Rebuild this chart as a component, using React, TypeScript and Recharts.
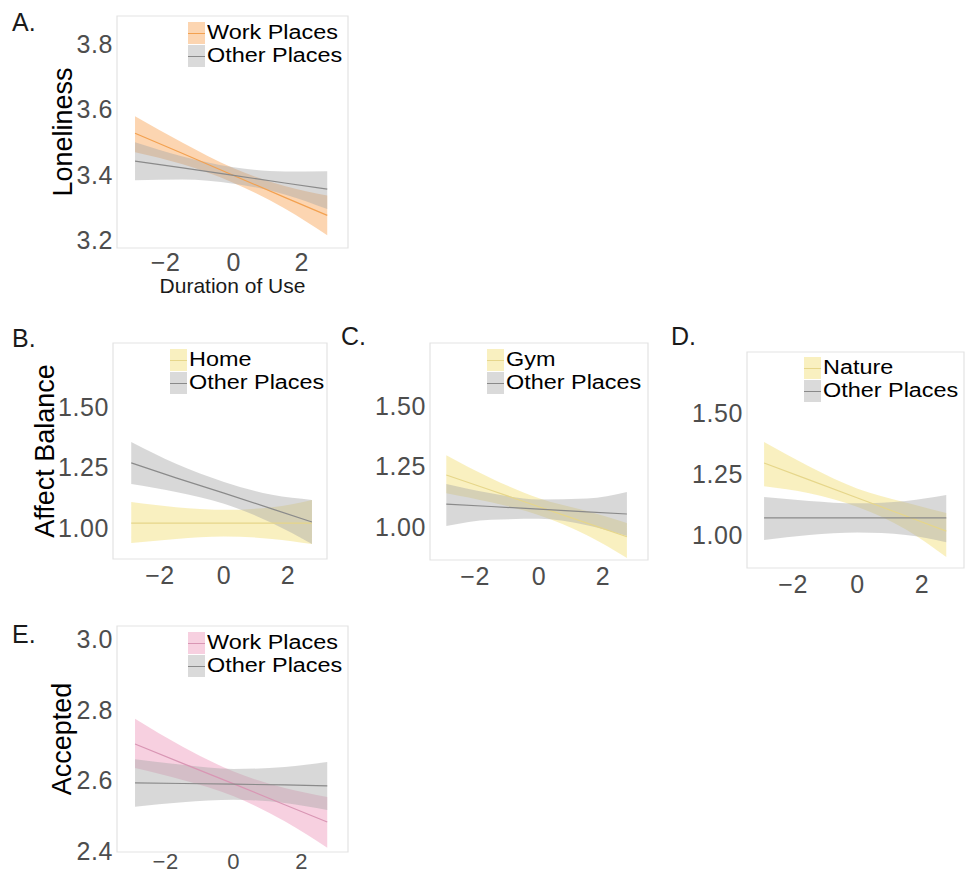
import React from 'react';
import { ComposedChart, Area, Line, XAxis, YAxis, Legend, ReferenceArea, Label } from 'recharts';

const FONT = '"Liberation Sans", Arial, Helvetica, sans-serif';

const durations = [-2.9, -1.5, 0, 1.5, 2.75];
const xTicks = [-2, 0, 2];

// A. Loneliness – work places vs other places
const lonelyWorkFit = [3.527, 3.465, 3.398, 3.331, 3.276];
const lonelyWorkLow = [3.469, 3.432, 3.375, 3.297, 3.215];
const lonelyWorkHigh = [3.579, 3.498, 3.42, 3.366, 3.337];
const lonelyOtherFit = [3.442, 3.421, 3.398, 3.375, 3.356];
const lonelyOtherLow = [3.383, 3.386, 3.373, 3.34, 3.295];
const lonelyOtherHigh = [3.5, 3.456, 3.423, 3.41, 3.411];

// B. Affect balance – home
const homeFit = [1.02, 1.02, 1.02, 1.02, 1.02];
const homeLow = [0.938, 0.955, 0.965, 0.955, 0.934];
const homeHigh = [1.107, 1.086, 1.075, 1.086, 1.116];
const homeOtherFit = [1.269, 1.207, 1.144, 1.079, 1.025];
const homeOtherLow = [1.182, 1.149, 1.1, 1.021, 0.934];
const homeOtherHigh = [1.355, 1.265, 1.19, 1.137, 1.116];

// C. Affect balance – gym
const gymFit = [1.215, 1.152, 1.084, 1.016, 0.96];
const gymLow = [1.14, 1.102, 1.049, 0.966, 0.872];
const gymHigh = [1.297, 1.202, 1.119, 1.066, 1.017];
const gymOtherFit = [1.095, 1.085, 1.074, 1.063, 1.054];
const gymOtherLow = [1.004, 1.03, 1.034, 1.008, 0.963];
const gymOtherHigh = [1.178, 1.14, 1.114, 1.118, 1.145];

// D. Affect balance – nature
const natureFit = [1.295, 1.226, 1.152, 1.078, 1.016];
const natureLow = [1.2, 1.171, 1.115, 1.023, 0.91];
const natureHigh = [1.381, 1.281, 1.19, 1.133, 1.09];
const natureOtherFit = [1.07, 1.07, 1.07, 1.07, 1.07];
const natureOtherLow = [0.98, 1.0, 1.01, 1.0, 0.97];
const natureOtherHigh = [1.156, 1.14, 1.13, 1.14, 1.164];

// E. Accepted – work places
const acceptWorkFit = [2.703, 2.648, 2.59, 2.531, 2.482];
const acceptWorkLow = [2.635, 2.601, 2.555, 2.484, 2.409];
const acceptWorkHigh = [2.774, 2.695, 2.625, 2.578, 2.553];
const acceptOtherFit = [2.593, 2.591, 2.589, 2.587, 2.584];
const acceptOtherLow = [2.525, 2.538, 2.545, 2.536, 2.516];
const acceptOtherHigh = [2.66, 2.644, 2.632, 2.638, 2.652];

const ORANGE = { band: '#f99b45', line: '#f3a150' };
const YELLOW = { band: '#f0dc6a', line: '#e6d68a' };
const PINK = { band: '#ec8fb5', line: '#d996b4' };
const GREY = { band: '#a8a8a8', line: '#8a8a8a' };
const BAND_OPACITY = 0.42;

const fmtX = (v: number) => (v < 0 ? `\u2212${Math.abs(v)}` : `${v}`);

function buildRows(fit: number[], low: number[], high: number[], oFit: number[], oLow: number[], oHigh: number[]) {
  return durations.map((x, i) => ({
    x,
    band: [low[i], high[i]],
    fit: fit[i],
    otherBand: [oLow[i], oHigh[i]],
    other: oFit[i],
  }));
}

interface PanelProps {
  letter: string;
  left: number;
  top: number;
  width: number;
  height: number;
  box: [number, number, number, number];
  xDomain: [number, number];
  yDomain: [number, number];
  yTicks: number[];
  digits: number;
  yTitle?: string;
  yTitleX?: number;
  xTitle?: string;
  place: string;
  color: { band: string; line: string };
  rows: ReturnType<typeof buildRows>;
  legendPos: [number, number];
  letterPos: [number, number];
  xTickMargin: number;
  xTickSize?: number;
}

// the source figure is a little stretched sideways, so the legend text is widened to match
function LegendBox({ place, color }: { place: string; color: { band: string; line: string } }) {
  const items = [
    { name: place, c: color },
    { name: 'Other Places', c: GREY },
  ];
  return (
    <div style={{ fontFamily: FONT, fontSize: 20, color: '#000' }}>
      {items.map((it) => (
        <div key={it.name} style={{ display: 'flex', alignItems: 'center', height: 23 }}>
          <div style={{ position: 'relative', width: 17, height: 22 }}>
            <div style={{ position: 'absolute', inset: 0, background: it.c.band, opacity: BAND_OPACITY }} />
            <div style={{ position: 'absolute', left: 0, right: 0, top: 11, height: 1, background: it.c.line }} />
          </div>
          <span
            style={{
              display: 'inline-block',
              marginLeft: 2,
              lineHeight: '23px',
              whiteSpace: 'nowrap',
              transform: 'scaleX(1.17)',
              transformOrigin: 'left center',
            }}
          >
            {it.name}
          </span>
        </div>
      ))}
    </div>
  );
}

function Panel(p: PanelProps) {
  const [x0, y0, x1, y1] = p.box;
  const mTop = y0 - p.top;
  const yWidth = x0 - p.left;
  const mRight = p.left + p.width - x1;
  const xHeight = p.top + p.height - y1;
  const boxMidY = mTop + (y1 - y0) / 2;
  const tick = { fill: '#4d4d4d', fontSize: 25, fontFamily: FONT, letterSpacing: 0.6 };
  const xTick = { ...tick, fontSize: p.xTickSize ?? 25 };

  return (
    <>
      <div
        style={{
          position: 'absolute',
          left: p.letterPos[0],
          top: p.letterPos[1],
          fontFamily: FONT,
          fontSize: 25,
          lineHeight: '25px',
          color: '#1a1a1a',
        }}
      >
        {p.letter}
      </div>
      <div style={{ position: 'absolute', left: p.left, top: p.top }}>
        <ComposedChart
          width={p.width}
          height={p.height}
          data={p.rows}
          margin={{ top: mTop, right: mRight, left: 0, bottom: 0 }}
        >
          <ReferenceArea
            x1={p.xDomain[0]}
            x2={p.xDomain[1]}
            y1={p.yDomain[0]}
            y2={p.yDomain[1]}
            fill="none"
            stroke="#e3e3e3"
            strokeWidth={1.2}
            ifOverflow="visible"
          />
          <XAxis
            type="number"
            dataKey="x"
            domain={p.xDomain}
            ticks={xTicks}
            allowDataOverflow
            height={xHeight}
            axisLine={false}
            tickLine={false}
            tickSize={0}
            tickMargin={p.xTickMargin}
            tickFormatter={fmtX}
            tick={xTick}
          >
            {p.xTitle && (
              <Label
                content={() => (
                  <text
                    x={x0 - p.left + (x1 - x0) / 2}
                    y={y1 - p.top + 45}
                    textAnchor="middle"
                    fontFamily={FONT}
                    fontSize={21}
                    fill="#1a1a1a"
                  >
                    {p.xTitle}
                  </text>
                )}
              />
            )}
          </XAxis>
          <YAxis
            type="number"
            domain={p.yDomain}
            ticks={p.yTicks}
            allowDataOverflow
            width={yWidth}
            axisLine={false}
            tickLine={false}
            tickSize={0}
            tickMargin={4}
            tickFormatter={(v: number) => v.toFixed(p.digits)}
            tick={tick}
          >
            {p.yTitle && (
              <Label
                content={() => {
                  const cx = (p.yTitleX ?? 60) - p.left;
                  return (
                    <text
                      x={cx}
                      y={boxMidY}
                      transform={`rotate(-90 ${cx} ${boxMidY})`}
                      textAnchor="middle"
                      dominantBaseline="central"
                      fontFamily={FONT}
                      fontSize={27}
                      fill="#000"
                    >
                      {p.yTitle}
                    </text>
                  );
                }}
              />
            )}
          </YAxis>
          <Area
            type="monotone"
            dataKey="band"
            fill={p.color.band}
            fillOpacity={BAND_OPACITY}
            stroke="none"
            isAnimationActive={false}
          />
          <Area
            type="monotone"
            dataKey="otherBand"
            fill={GREY.band}
            fillOpacity={0.45}
            stroke="none"
            isAnimationActive={false}
          />
          <Line type="linear" dataKey="fit" stroke={p.color.line} strokeWidth={1.2} dot={false} isAnimationActive={false} />
          <Line type="linear" dataKey="other" stroke={GREY.line} strokeWidth={1.2} dot={false} isAnimationActive={false} />
          <Legend
            verticalAlign="middle"
            layout="horizontal"
            wrapperStyle={{ left: p.legendPos[0] - p.left, top: p.legendPos[1] - p.top, width: 'auto' }}
            content={() => <LegendBox place={p.place} color={p.color} />}
          />
        </ComposedChart>
      </div>
    </>
  );
}

export default function App() {
  const panels: PanelProps[] = [
    {
      letter: 'A.',
      left: 0, top: 0, width: 360, height: 300,
      box: [117, 16, 348, 248],
      xDomain: [-3.43, 3.36],
      yDomain: [3.176, 3.886],
      yTicks: [3.2, 3.4, 3.6, 3.8],
      digits: 1,
      yTitle: 'Loneliness', yTitleX: 63,
      xTitle: 'Duration of Use',
      place: 'Work Places',
      color: ORANGE,
      rows: buildRows(lonelyWorkFit, lonelyWorkLow, lonelyWorkHigh, lonelyOtherFit, lonelyOtherLow, lonelyOtherHigh),
      legendPos: [188, 21],
      letterPos: [12, 10],
      xTickMargin: 5,
    },
    {
      letter: 'B.',
      left: 0, top: 330, width: 330, height: 270,
      box: [113, 343, 327, 559],
      xDomain: [-3.47, 3.22],
      yDomain: [0.872, 1.764],
      yTicks: [1.0, 1.25, 1.5],
      digits: 2,
      yTitle: 'Affect Balance', yTitleX: 45,
      place: 'Home',
      color: YELLOW,
      rows: buildRows(homeFit, homeLow, homeHigh, homeOtherFit, homeOtherLow, homeOtherHigh),
      legendPos: [170, 348],
      letterPos: [12, 326],
      xTickMargin: 7,
    },
    {
      letter: 'C.',
      left: 330, top: 330, width: 323, height: 270,
      box: [430, 343, 648, 560],
      xDomain: [-3.41, 3.41],
      yDomain: [0.864, 1.76],
      yTicks: [1.0, 1.25, 1.5],
      digits: 2,
      place: 'Gym',
      color: YELLOW,
      rows: buildRows(gymFit, gymLow, gymHigh, gymOtherFit, gymOtherLow, gymOtherHigh),
      legendPos: [487, 348],
      letterPos: [341, 324],
      xTickMargin: 7,
    },
    {
      letter: 'D.',
      left: 653, top: 330, width: 315, height: 278,
      box: [747, 352, 964, 568],
      xDomain: [-3.43, 3.3],
      yDomain: [0.865, 1.75],
      yTicks: [1.0, 1.25, 1.5],
      digits: 2,
      place: 'Nature',
      color: YELLOW,
      rows: buildRows(natureFit, natureLow, natureHigh, natureOtherFit, natureOtherLow, natureOtherHigh),
      legendPos: [804, 356],
      letterPos: [671, 324],
      xTickMargin: 7,
    },
    {
      letter: 'E.',
      left: 0, top: 610, width: 360, height: 269,
      box: [117, 626, 348, 852],
      xDomain: [-3.43, 3.36],
      yDomain: [2.397, 3.037],
      yTicks: [2.4, 2.6, 2.8, 3.0],
      digits: 1,
      yTitle: 'Accepted', yTitleX: 62,
      place: 'Work Places',
      color: PINK,
      rows: buildRows(acceptWorkFit, acceptWorkLow, acceptWorkHigh, acceptOtherFit, acceptOtherLow, acceptOtherHigh),
      legendPos: [188, 631],
      letterPos: [12, 622],
      xTickMargin: 1,
      xTickSize: 22,
    },
  ];

  return (
    <div
      style={{
        position: 'absolute',
        left: 0,
        top: 0,
        width: 969,
        height: 879,
        background: '#fff',
        overflow: 'hidden',
        fontFamily: FONT,
      }}
    >
      {panels.map((p) => (
        <Panel key={p.letter} {...p} />
      ))}
    </div>
  );
}
